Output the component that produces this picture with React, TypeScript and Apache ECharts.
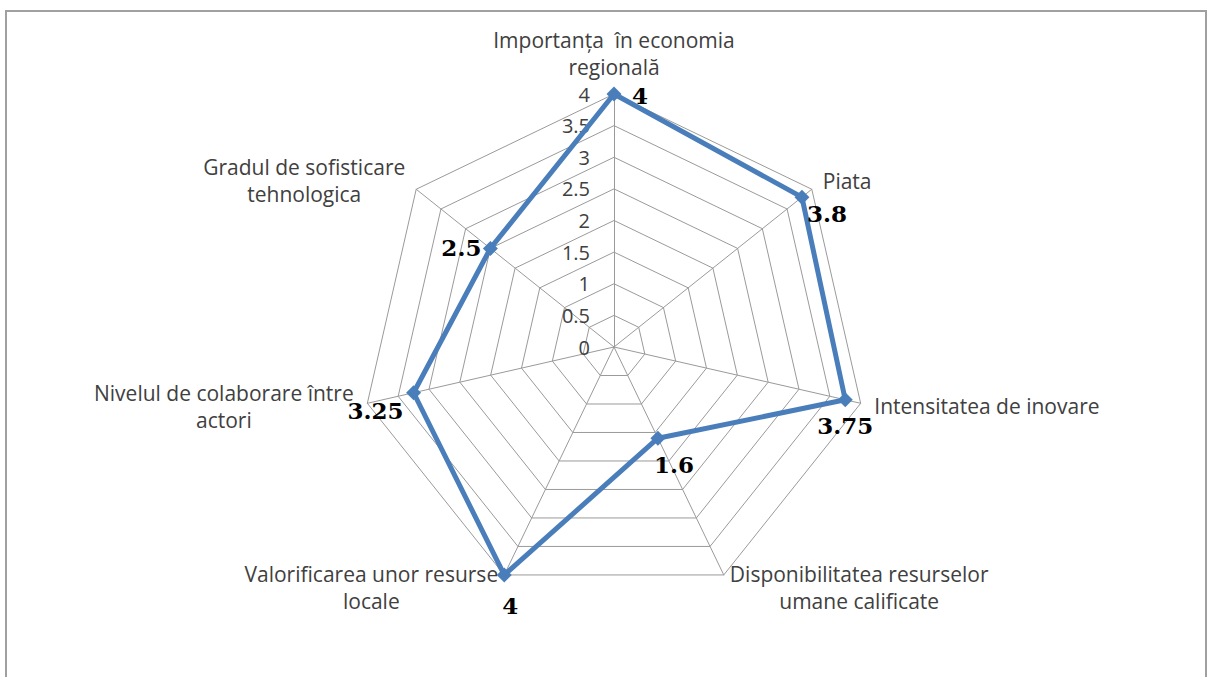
import React, { useEffect, useRef } from 'react';
import * as echarts from 'echarts';

// In reading order, clockwise from the top
const indicatorNames = [
  'Importanța  în economia\nregională',
  'Piata',
  'Intensitatea de inovare',
  'Disponibilitatea resurselor\numane calificate',
  'Valorificarea unor resurse\nlocale',
  'Nivelul de colaborare între\nactori',
  'Gradul de sofisticare\ntehnologica',
];
const values = [4, 3.8, 3.75, 1.6, 4, 3.25, 2.5];
const axisMin = 0;
const axisMax = 4;
const axisStep = 0.5;

// label offsets (dx, dy) from each point, styling only
const labelOffsets: [number, number][] = [
  [26, 1], [25, 16], [0, 26], [16, 26], [6, 31], [-38, 18], [-29, -1],
];

const BLUE = '#4a7ebb';
const GRID = '#9a9a9a';
const TEXT = '#404040';

// ECharts radar runs counter-clockwise: keep the first axis and reverse the rest
const order = [0, ...indicatorNames.map((_, i) => i).slice(1).reverse()];

export default function App() {
  const ref = useRef<HTMLDivElement>(null);
  useEffect(() => {
    if (!ref.current) return;
    const chart = echarts.init(ref.current, undefined, { renderer: 'svg' });
    const rich: Record<string, any> = {};
    labelOffsets.forEach(([dx, dy], i) => {
      rich['l' + i] = {
        fontFamily: 'DejaVu Serif',
        fontWeight: 'bold',
        fontSize: 23,
        color: '#000',
        padding: [Math.max(0, 2 * dy), Math.max(0, -2 * dx), Math.max(0, -2 * dy), Math.max(0, 2 * dx)],
      };
    });
    const nameRich = {
      c: { align: 'center', fontFamily: 'Open Sans', fontSize: 21, color: TEXT, lineHeight: 27 },
    };
    chart.setOption({
      animation: false,
      graphic: [
        {
          type: 'rect',
          shape: { x: 6, y: 11, width: 1200, height: 690 },
          style: { fill: 'none', stroke: '#a0a0a0', lineWidth: 2 },
          silent: true,
        },
      ],
      radar: {
        center: [614, 347],
        radius: 253,
        startAngle: 90,
        splitNumber: (axisMax - axisMin) / axisStep,
        shape: 'polygon',
        nameGap: 14,
        axisName: {
          formatter: (name: string) =>
            name.split('\n').map((s) => '{c|' + s + '}').join('\n'),
          rich: nameRich,
          fontFamily: 'Open Sans',
          fontSize: 21,
          color: TEXT,
        },
        axisLine: { show: true, lineStyle: { color: GRID, width: 1 } },
        splitLine: { show: true, lineStyle: { color: GRID, width: 1 } },
        splitArea: { show: false },
        axisTick: { show: false },
        axisLabel: { show: false },
        indicator: order.map((oi, i) => ({
          name: indicatorNames[oi],
          min: axisMin,
          max: axisMax,
          ...(i === 0
            ? {
                axisLabel: {
                  show: true,
                  margin: 24,
                  fontFamily: 'Open Sans',
                  fontSize: 20,
                  color: TEXT,
                  showMinLabel: true,
                  showMaxLabel: true,
                },
              }
            : {}),
        })),
      },
      series: [
        {
          type: 'radar',
          symbol: 'diamond',
          symbolSize: 15,
          lineStyle: { color: BLUE, width: 5 },
          itemStyle: { color: BLUE },
          label: {
            show: true,
            position: 'inside',
            rich,
            formatter: (p: any) => {
              const idx = order[p.dimensionIndex];
              return '{l' + idx + '|' + p.value + '}';
            },
          },
          data: [{ value: order.map((oi) => values[oi]), name: 'Scor' }],
        },
      ],
    });
    return () => chart.dispose();
  }, []);
  return (
    <div
      ref={ref}
      style={{ position: 'fixed', left: 0, top: 0, width: 1214, height: 677, background: '#fff' }}
    />
  );
}
